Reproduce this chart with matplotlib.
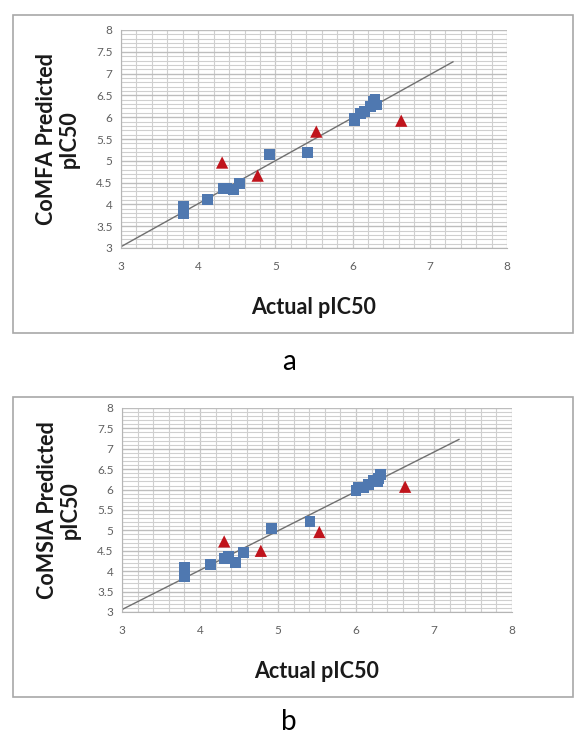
import matplotlib
matplotlib.use("Agg")
import matplotlib.pyplot as plt
import numpy as np
from matplotlib.patches import Rectangle
from matplotlib.ticker import MultipleLocator

# ---- data: panel a (CoMFA) ----
a_train_x = [3.81, 3.81, 4.12, 4.33, 4.37, 4.46, 4.54, 4.92, 5.42, 6.02, 6.03, 6.10, 6.16, 6.23, 6.27, 6.31, 6.29]
a_train_y = [3.95, 3.80, 4.12, 4.37, 4.37, 4.34, 4.47, 5.14, 5.19, 5.98, 5.92, 6.09, 6.13, 6.24, 6.36, 6.28, 6.40]
a_test_x = [4.31, 4.77, 5.53, 6.63]
a_test_y = [4.96, 4.66, 5.67, 5.92]
a_fit_x = [3.0, 7.30]
a_fit_y = [3.03, 7.27]

# ---- data: panel b (CoMSIA) ----
b_train_x = [3.80, 3.80, 3.80, 4.13, 4.31, 4.37, 4.45, 4.56, 4.92, 5.41, 6.00, 6.03, 6.10, 6.16, 6.23, 6.29, 6.31, 6.27]
b_train_y = [4.08, 3.87, 4.00, 4.16, 4.32, 4.36, 4.22, 4.46, 5.04, 5.21, 5.98, 6.06, 6.04, 6.12, 6.23, 6.28, 6.38, 6.20]
b_test_x = [4.31, 4.78, 5.53, 6.63]
b_test_y = [4.73, 4.50, 4.96, 6.07]
b_fit_x = [3.0, 7.32]
b_fit_y = [3.06, 7.23]

x_ticks = [3, 4, 5, 6, 7, 8]
y_ticks = [3, 3.5, 4, 4.5, 5, 5.5, 6, 6.5, 7, 7.5, 8]
y_ticklabels = ["3", "3.5", "4", "4.5", "5", "5.5", "6", "6.5", "7", "7.5", "8"]

W, H = 576, 745
fig = plt.figure(figsize=(W / 100, H / 100), dpi=100)
fig.patch.set_facecolor("white")

FONT = ["Lato", "DejaVu Sans"]
BLUE = "#4f78b0"
RED = "#c0141c"


def px_axes(l, t, r, b):
    return fig.add_axes([l / W, 1 - b / H, (r - l) / W, (b - t) / H])


def frame(l, t, r, b):
    fig.patches.append(Rectangle((l / W, 1 - b / H), (r - l) / W, (b - t) / H,
                                 transform=fig.transFigure, fill=False,
                                 edgecolor="#a8a8a8", linewidth=1.2))


def panel(ax, tx, ty, sx, sy, fx, fy, ylabel):
    ax.set_xlim(3, 8)
    ax.set_ylim(3, 8)
    ax.set_xticks(x_ticks)
    ax.set_yticks(y_ticks)
    ax.set_yticklabels(y_ticklabels)
    ax.xaxis.set_minor_locator(MultipleLocator(0.2))
    ax.yaxis.set_minor_locator(MultipleLocator(0.1))
    ax.grid(which="major", axis="y", color="#bdbdbd", linewidth=1.0)
    ax.grid(which="major", axis="x", color="#c8c8c8", linewidth=0.9)
    ax.grid(which="minor", color="#cfcfcf", linewidth=0.8)
    ax.set_axisbelow(True)
    for s in ["top", "right"]:
        ax.spines[s].set_visible(False)
    for s in ["left", "bottom"]:
        ax.spines[s].set_color("#b5b5b5")
    ax.tick_params(which="both", length=0, labelsize=8.5, labelcolor="#606060", pad=9)
    ax.tick_params(axis="y", pad=6)
    for lab in ax.get_xticklabels() + ax.get_yticklabels():
        lab.set_family(FONT)
    ax.plot(fx, fy, color="#707070", linewidth=1.0, zorder=2)
    ax.scatter(tx, ty, marker="s", s=62, color=BLUE, edgecolors="none", zorder=3)
    ax.scatter(sx, sy, marker="^", s=78, color=RED, edgecolors="none", zorder=4)
    ax.set_xlabel("Actual pIC50", fontsize=15.5, fontweight="bold", family=FONT,
                  color="#1a1a1a", labelpad=18)
    ax.set_ylabel(ylabel, fontsize=15.5, fontweight="bold", family=FONT,
                  color="#1a1a1a", labelpad=12, linespacing=1.1)


frame(13, 15, 573, 333)
frame(13, 397, 573, 697)

ax_a = px_axes(121, 30, 507, 248)
panel(ax_a, a_train_x, a_train_y, a_test_x, a_test_y, a_fit_x, a_fit_y,
      "CoMFA Predicted\npIC50")
ax_b = px_axes(122, 408, 512, 612)
panel(ax_b, b_train_x, b_train_y, b_test_x, b_test_y, b_fit_x, b_fit_y,
      "CoMSIA Predicted\npIC50")

fig.text(289 / W, 1 - 362 / H, "a", fontsize=20, family=FONT, ha="center", va="center")
fig.text(289 / W, 1 - 722 / H, "b", fontsize=20, family=FONT, ha="center", va="center")

fig.savefig("out.png", dpi=100, facecolor="white")
